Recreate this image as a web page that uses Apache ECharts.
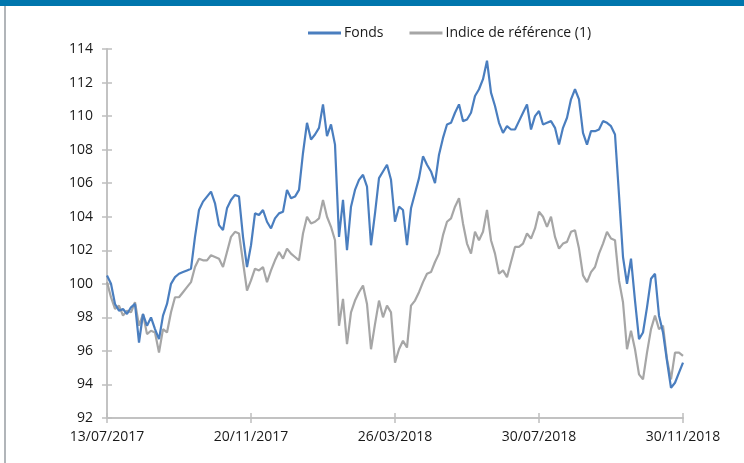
<!DOCTYPE html>
<html>
<head>
<meta charset="utf-8">
<script src="https://cdn.jsdelivr.net/npm/echarts@6/dist/echarts.min.js"></script>
<style>
  html, body { margin: 0; padding: 0; background: #fff; }
  #chart { width: 744px; height: 463px; }
</style>
</head>
<body>
<div id="chart"></div>
<script>
// tick labels of the date axis, one every 36 points
const dateLabels = ['13/07/2017', '20/11/2017', '26/03/2018', '30/07/2018', '30/11/2018'];
const pointsPerLabel = 36;

// values (base 100)
const fonds = [
  100.5, 100.0, 98.8, 98.4, 98.5, 98.2, 98.6, 98.8, 96.5, 98.2,
  97.5, 98.0, 97.3, 96.7, 98.1, 98.8, 100.0, 100.4, 100.6, 100.7,
  100.8, 100.9, 102.8, 104.4, 104.9, 105.2, 105.5, 104.8, 103.5, 103.2,
  104.5, 105.0, 105.3, 105.2, 102.8, 101.0, 102.3, 104.2, 104.1, 104.4,
  103.7, 103.3, 103.9, 104.2, 104.3, 105.6, 105.1, 105.2, 105.6, 107.8,
  109.6, 108.6, 108.9, 109.3, 110.7, 108.8, 109.5, 108.3, 102.8, 105.0,
  102.0, 104.6, 105.6, 106.2, 106.5, 105.8, 102.3, 104.2, 106.3, 106.7,
  107.1, 106.2, 103.7, 104.6, 104.4, 102.3, 104.5, 105.4, 106.3, 107.6,
  107.1, 106.7, 106.0, 107.7, 108.7, 109.5, 109.6, 110.2, 110.7, 109.7,
  109.8, 110.2, 111.2, 111.6, 112.2, 113.3, 111.4, 110.6, 109.6, 109.0,
  109.4, 109.2, 109.2, 109.7, 110.2, 110.7, 109.2, 110.0, 110.3, 109.5,
  109.6, 109.7, 109.3, 108.3, 109.3, 109.9, 111.0, 111.6, 111.0, 109.0,
  108.3, 109.1, 109.1, 109.2, 109.7, 109.6, 109.4, 108.9, 105.3, 101.6,
  100.0, 101.5, 99.0, 96.7, 97.1, 98.6, 100.3, 100.6, 98.1, 97.1,
  95.4, 93.8, 94.1, 94.7, 95.3
];

const indice = [
  100.1, 99.2, 98.5, 98.7, 98.1, 98.4, 98.3, 98.9, 97.5, 98.2,
  97.0, 97.2, 97.1, 95.9, 97.3, 97.1, 98.3, 99.2, 99.2, 99.5,
  99.8, 100.1, 101.0, 101.5, 101.4, 101.4, 101.7, 101.6, 101.5, 101.0,
  101.9, 102.8, 103.1, 103.0, 101.3, 99.6, 100.2, 100.9, 100.8, 101.0,
  100.1, 100.8, 101.4, 101.9, 101.5, 102.1, 101.8, 101.6, 101.4, 103.0,
  104.0, 103.6, 103.7, 103.9, 105.0, 104.0, 103.4, 102.6, 97.5, 99.1,
  96.4, 98.3, 99.0, 99.5, 99.9, 98.8, 96.1, 97.6, 99.0, 98.0,
  98.7, 98.3, 95.3, 96.1, 96.6, 96.2, 98.7, 99.0, 99.5, 100.1,
  100.6, 100.7, 101.3, 101.8, 102.9, 103.7, 103.9, 104.6, 105.1, 103.6,
  102.4, 101.8, 103.1, 102.6, 103.1, 104.4, 102.6, 101.8, 100.6, 100.8,
  100.4, 101.3, 102.2, 102.2, 102.4, 103.0, 102.7, 103.3, 104.3, 104.0,
  103.4, 104.0, 102.8, 102.1, 102.4, 102.5, 103.1, 103.2, 102.1, 100.5,
  100.1, 100.7, 101.0, 101.8, 102.4, 103.1, 102.7, 102.6, 100.2, 98.9,
  96.1, 97.2, 96.1, 94.6, 94.3, 95.9, 97.3, 98.1, 97.3, 97.5,
  95.5, 94.3, 95.9, 95.9, 95.7
];

const categories = fonds.map((v, i) => String(i));

const FONT = 'Open Sans';
const AXIS_GREY = '#bfbfbf';

const chart = echarts.init(document.getElementById('chart'));

const xBase = {
  type: 'category',
  data: categories,
  boundaryGap: false,
  axisLine: { lineStyle: { color: AXIS_GREY, width: 1.5 } },
  axisTick: { interval: pointsPerLabel - 1, length: 5, lineStyle: { color: AXIS_GREY, width: 1.5 } },
  splitLine: { show: false }
};

const yBase = {
  type: 'value',
  min: 92,
  max: 114,
  interval: 2,
  axisLine: { show: true, lineStyle: { color: AXIS_GREY, width: 1.5 } },
  axisTick: { show: true, length: 5, lineStyle: { color: AXIS_GREY, width: 1.5 } },
  splitLine: { show: false }
};

chart.setOption({
  animation: false,
  backgroundColor: '#ffffff',
  textStyle: { fontFamily: FONT },
  grid: { left: 107, right: 61, top: 49, bottom: 45, containLabel: false },
  legend: {
    top: 21,
    left: 303,
    itemWidth: 33,
    itemHeight: 3,
    itemGap: 26,
    icon: 'rect',
    textStyle: { fontFamily: FONT, fontSize: 14, color: '#1a1a1a', padding: [0, 0, 0, -2] },
    data: ['Fonds', 'Indice de référence (1)']
  },
  xAxis: [
    Object.assign({}, xBase, {
      axisLabel: {
        interval: pointsPerLabel - 1,
        showMinLabel: true,
        showMaxLabel: true,
        margin: 12,
        fontFamily: FONT,
        fontSize: 14,
        color: '#1a1a1a',
        formatter: (v, i) => dateLabels[Math.round(i / pointsPerLabel)] || ''
      }
    }),
    Object.assign({}, xBase, {
      position: 'bottom',
      axisTick: Object.assign({}, xBase.axisTick, { inside: true }),
      axisLabel: { show: false }
    })
  ],
  yAxis: [
    Object.assign({}, yBase, {
      axisLabel: { margin: 14, fontFamily: FONT, fontSize: 14, color: '#1a1a1a' }
    }),
    Object.assign({}, yBase, {
      position: 'left',
      axisTick: Object.assign({}, yBase.axisTick, { inside: true }),
      axisLabel: { show: false }
    })
  ],
  series: [
    {
      name: 'Fonds',
      type: 'line',
      data: fonds,
      showSymbol: false,
      symbol: 'none',
      z: 3,
      itemStyle: { color: '#4a7ebf' },
      lineStyle: { color: '#4a7ebf', width: 2.2 }
    },
    {
      name: 'Indice de référence (1)',
      type: 'line',
      data: indice,
      showSymbol: false,
      symbol: 'none',
      z: 2,
      itemStyle: { color: '#a6a6a6' },
      lineStyle: { color: '#a6a6a6', width: 2.2 }
    }
  ],
  graphic: [
    { type: 'rect', left: 0, top: 0, shape: { width: 744, height: 6 }, style: { fill: '#0076ad' } },
    { type: 'rect', left: 4, top: 6, shape: { width: 2, height: 457 }, style: { fill: '#b1b5b9' } }
  ]
});
</script>
</body>
</html>
